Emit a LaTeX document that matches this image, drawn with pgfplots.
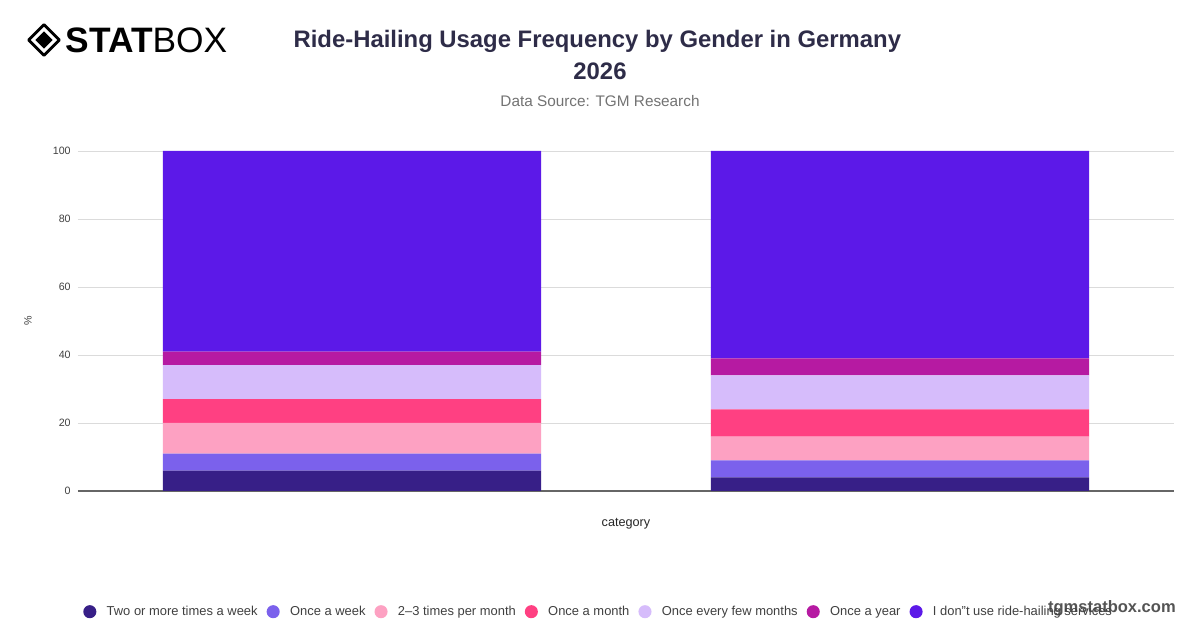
\documentclass[border=0pt]{standalone}
\usepackage{fontspec}
\setmainfont{Liberation Sans}
\usepackage{pgfplots}
\pgfplotsset{compat=1.18}
\definecolor{cA}{HTML}{371F87}
\definecolor{cB}{HTML}{7B61EC}
\definecolor{cC}{HTML}{FDA1C2}
\definecolor{cD}{HTML}{FF4082}
\definecolor{cE}{HTML}{D6BCFB}
\definecolor{cF}{HTML}{B61AA2}
\definecolor{cG}{HTML}{5C19E8}
\definecolor{titlec}{HTML}{2E2C48}
\pgfplotstableread{
x a b c d e f g
0 6 5 9 7 10 4 59
1 4 5 7 8 10 5 61
}\datatable
\begin{document}
\begin{tikzpicture}[x=1pt,y=1pt]
\path[use as bounding box, fill=white] (0,0) rectangle (900,471);
% logo
\begin{scope}[shift={(33,441)}]
\draw[line width=2.2pt, line join=round] (0,11.5) -- (11.5,0) -- (0,-11.5) -- (-11.5,0) -- cycle;
\fill (0,6.5) -- (6.5,0) -- (0,-6.5) -- (-6.5,0) -- cycle;
\end{scope}
\node[anchor=west, inner sep=0pt] at (49,441) {\fontsize{26.5}{30}\selectfont\textbf{STAT}BOX};
% title
\node[text=titlec, font=\bfseries\fontsize{17.9}{21}\selectfont] at (448,440) {Ride-Hailing Usage Frequency by Gender in Germany};
\node[text=titlec, font=\bfseries\fontsize{17.9}{21}\selectfont] at (450,417.5) {2026};
\node[text=black!55, font=\fontsize{11.5}{14}\selectfont] at (450,395.25) {Data Source: TGM Research};
% watermark
\node[anchor=east, inner sep=0pt, text=black!67, font=\bfseries\fontsize{12.4}{15}\selectfont] at (882,14.5) {tgmstatbox.com};
\begin{axis}[
  at={(58.5pt,102.75pt)}, anchor=south west, scale only axis,
  width=822pt, height=255pt,
  xmin=-0.5, xmax=1.5, ymin=0, ymax=100,
  ybar stacked, bar width=0.69,
  xtick={0,1}, xticklabels={,},
  ytick={0,20,40,60,80,100},
  ymajorgrids, grid style={draw=black!14, line width=0.6pt},
  axis x line*=bottom, axis y line*=left,
  y axis line style={draw=none},
  x axis line style={draw=black!60, line width=0.8pt},
  major tick length=0pt,
  tick label style={font=\fontsize{8}{10}\selectfont, text=black!75},
  yticklabel style={xshift=-2pt},
  /pgf/number format/assume math mode=true,
  ylabel={\%}, xlabel={category},
  every axis y label/.style={at={(axis description cs:-0.0456,0.5)}, rotate=90, anchor=center, font=\fontsize{8}{10}\selectfont, text=black!75},
  every axis x label/.style={at={(axis description cs:0.5,-0.097)}, anchor=center, font=\fontsize{9.5}{12}\selectfont, text=black!85},
  legend columns=-1,
  legend image code/.code={\fill[#1, draw=none] (0pt,0pt) circle (4.9pt);},
  legend style={at={(axis description cs:0.0046,-0.355)}, anchor=west, draw=none, fill=none, inner sep=0pt,
    font=\fontsize{9.7}{12}\selectfont, text=black!75,
    /tikz/every odd column/.append style={column sep=5.75pt},
    /tikz/every even column/.append style={column sep=4.75pt}},
]
\addplot[fill=cA, draw=none] table[x=x, y=a] {\datatable};
\addplot[fill=cB, draw=none] table[x=x, y=b] {\datatable};
\addplot[fill=cC, draw=none] table[x=x, y=c] {\datatable};
\addplot[fill=cD, draw=none] table[x=x, y=d] {\datatable};
\addplot[fill=cE, draw=none] table[x=x, y=e] {\datatable};
\addplot[fill=cF, draw=none] table[x=x, y=f] {\datatable};
\addplot[fill=cG, draw=none] table[x=x, y=g] {\datatable};
\legend{Two or more times a week, Once a week, 2--3 times per month, Once a month, Once every few months, Once a year, I don"t use ride-hailing services}
\end{axis}
\end{tikzpicture}
\end{document}
